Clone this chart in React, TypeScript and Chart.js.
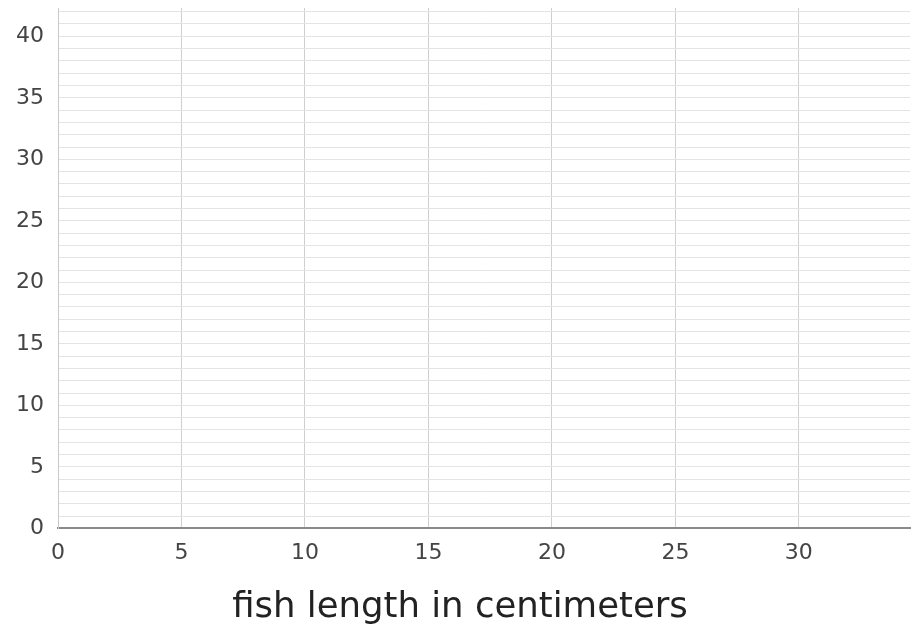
import React, { useEffect, useRef } from "react";
import { Chart, registerables } from "chart.js";

Chart.register(...registerables);

const xTickValues = [0, 5, 10, 15, 20, 25, 30];
const yTickLabels = [0, 5, 10, 15, 20, 25, 30, 35, 40];
const yGridValues = [0, 1, 2, 3, 4, 5, 6, 7, 8, 9, 10, 11, 12, 13, 14, 15, 16, 17, 18, 19, 20, 21, 22, 23, 24, 25, 26, 27, 28, 29, 30, 31, 32, 33, 34, 35, 36, 37, 38, 39, 40, 41, 42];
const xMax = 34.5;
const yMax = 42.3;
const xTitle = "fish length in centimeters";
const points: { x: number; y: number }[] = [];

export default function App() {
  const ref = useRef<HTMLCanvasElement | null>(null);
  useEffect(() => {
    if (!ref.current) return;
    const chart = new Chart(ref.current, {
      type: "scatter",
      data: { datasets: [{ data: points, pointRadius: 0 }] },
      options: {
        animation: false,
        responsive: false,
        maintainAspectRatio: false,
        layout: { padding: { top: 8, right: 2, left: 10, bottom: 0 } },
        plugins: {
          legend: { display: false },
          tooltip: { enabled: false },
          title: {
            display: true,
            position: "bottom",
            text: xTitle,
            color: "#222",
            font: { family: "DejaVu Sans", size: 35.5, weight: "normal" },
            padding: { top: 0, bottom: 2 },
          },
        },
        scales: {
          x: {
            type: "linear",
            min: 0,
            max: xMax,
            afterBuildTicks: (s: any) => {
              s.ticks = xTickValues.map((v) => ({ value: v }));
            },
            afterFit: (s: any) => {
              s.height = 58;
              s.paddingLeft = 0;
              s.paddingRight = 0;
            },
            grid: { color: "#cfcfcf", lineWidth: 1, drawTicks: false },
            border: { color: "#8a8a8a", width: 2 },
            ticks: {
              padding: 12,
              color: "#444",
              font: { family: "DejaVu Sans", size: 22 },
              maxRotation: 0,
              autoSkip: false,
            },
          },
          y: {
            type: "linear",
            min: 0,
            max: yMax,
            afterBuildTicks: (s: any) => {
              s.ticks = yGridValues.map((v) => ({ value: v }));
            },
            afterFit: (s: any) => {
              s.width = 48;
              s.paddingTop = 0;
              s.paddingBottom = 0;
            },
            grid: { color: "#e4e4e4", lineWidth: 1, drawTicks: false },
            border: { color: "#c8c8c8", width: 1 },
            ticks: {
              padding: 14,
              color: "#444",
              font: { family: "DejaVu Sans", size: 22 },
              autoSkip: false,
              callback: (v: any) => (yTickLabels.includes(Number(v)) ? String(v) : ""),
            },
          },
        },
      },
    });
    return () => chart.destroy();
  }, []);
  return (
    <div style={{ position: "fixed", left: 0, top: 0, width: 912, height: 631, background: "#fff" }}>
      <canvas ref={ref} width={912} height={631} style={{ width: 912, height: 631 }} />
    </div>
  );
}
